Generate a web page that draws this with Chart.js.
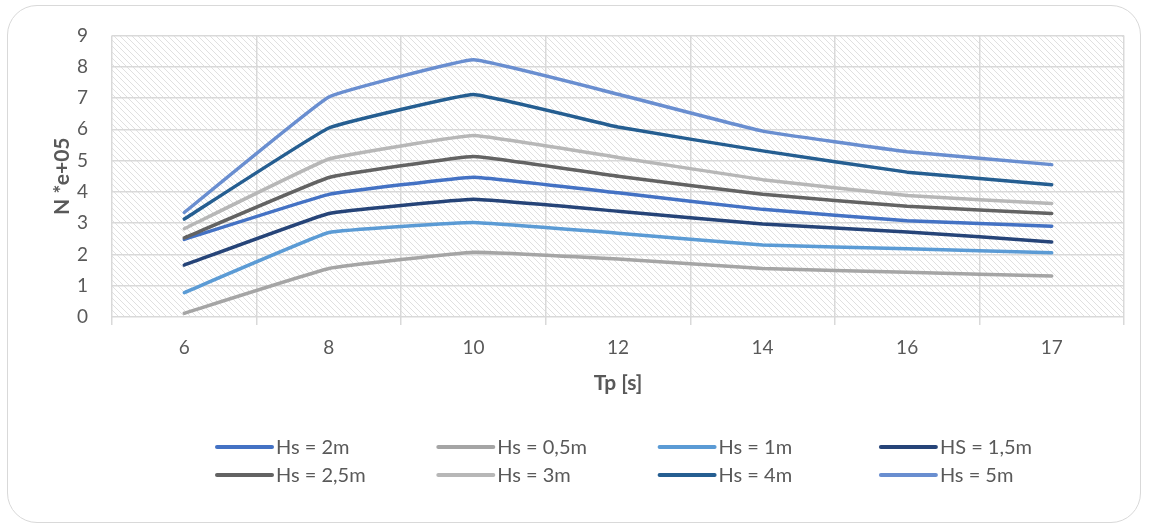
<!DOCTYPE html>
<html>
<head>
<meta charset="utf-8">
<script src="https://cdn.jsdelivr.net/npm/chart.js@4.4.1/dist/chart.umd.min.js"></script>
<style>
  html, body { margin: 0; padding: 0; background: #fff; }
  #wrap { position: relative; width: 1151px; height: 531px; }
  #frame {
    position: absolute; left: 7px; top: 5px; width: 1134px; height: 518px;
    border: 1.5px solid #d9d9d9; border-radius: 30px; box-sizing: border-box;
  }
  #c { position: absolute; left: 0; top: 0; }
</style>
</head>
<body>
<div id="wrap">
  <div id="frame"></div>
  <canvas id="c" width="1151" height="531"></canvas>
</div>
<script>
// Wave period categories (s)
const periods = ['6', '8', '10', '12', '14', '16', '17'];

// Cycle counts N (×1e5) per significant wave height
const hs2m   = [2.48, 3.92, 4.47, 3.97, 3.44, 3.08, 2.90];
const hs05m  = [0.12, 1.55, 2.07, 1.85, 1.55, 1.43, 1.31];
const hs1m   = [0.78, 2.70, 3.02, 2.68, 2.30, 2.18, 2.05];
const hs15m  = [1.66, 3.31, 3.76, 3.38, 2.97, 2.72, 2.40];
const hs25m  = [2.53, 4.46, 5.13, 4.50, 3.92, 3.54, 3.31];
const hs3m   = [2.82, 5.05, 5.80, 5.10, 4.39, 3.88, 3.63];
const hs4m   = [3.13, 6.04, 7.11, 6.07, 5.31, 4.63, 4.23];
const hs5m   = [3.34, 7.03, 8.22, 7.12, 5.94, 5.28, 4.87];

const seriesLabels = ['Hs = 2m', 'Hs = 0,5m', 'Hs = 1m', 'HS = 1,5m',
                      'Hs = 2,5m', 'Hs = 3m', 'Hs = 4m', 'Hs = 5m'];
const seriesValues = [hs2m, hs05m, hs1m, hs15m, hs25m, hs3m, hs4m, hs5m];
const seriesColors = ['#4472C4', '#A5A5A5', '#5B9BD5', '#264478',
                      '#636363', '#B7B7B7', '#255E91', '#698ED0'];

const yTicks = [0, 1, 2, 3, 4, 5, 6, 7, 8, 9];

const FONT = 'Lato, "Open Sans", sans-serif';
const TEXT = '#595959';
const GRID = '#d9d9d9';

// Diagonal hatch used as the plot-area fill
function makeHatch() {
  const s = 6;
  const p = document.createElement('canvas');
  p.width = s; p.height = s;
  const g = p.getContext('2d');
  g.strokeStyle = '#e0e0e0';
  g.lineWidth = 1;
  g.beginPath();
  g.moveTo(0, 0); g.lineTo(s, s);
  g.moveTo(-1, s - 1); g.lineTo(1, s + 1);
  g.moveTo(s - 1, -1); g.lineTo(s + 1, 1);
  g.stroke();
  return p;
}

const hatchFill = {
  id: 'hatchFill',
  beforeDraw(chart) {
    const { ctx, chartArea: a } = chart;
    ctx.save();
    ctx.fillStyle = ctx.createPattern(makeHatch(), 'repeat');
    ctx.fillRect(a.left, a.top, a.right - a.left, a.bottom - a.top);
    ctx.restore();
  }
};

// Two-row, four-column legend below the axis title
const gridLegend = {
  id: 'gridLegend',
  afterDraw(chart) {
    const ctx = chart.ctx;
    const x0 = 217, colW = 221.3, rows = [447, 475], lineLen = 55;
    ctx.save();
    ctx.font = '20px ' + FONT;
    ctx.textBaseline = 'middle';
    ctx.textAlign = 'left';
    chart.data.datasets.forEach((ds, i) => {
      const col = i % 4, row = Math.floor(i / 4);
      const x = x0 + col * colW, y = rows[row];
      ctx.strokeStyle = ds.borderColor;
      ctx.lineWidth = 4;
      ctx.lineCap = 'round';
      ctx.beginPath();
      ctx.moveTo(x, y); ctx.lineTo(x + lineLen, y);
      ctx.stroke();
      ctx.fillStyle = TEXT;
      ctx.fillText(ds.label, x + lineLen + 4, y + 1);
    });
    ctx.restore();
  }
};

const datasets = seriesValues.map((vals, i) => ({
  label: seriesLabels[i],
  data: vals,
  borderColor: seriesColors[i],
  backgroundColor: seriesColors[i],
  borderWidth: 3.5,
  borderCapStyle: 'round',
  borderJoinStyle: 'round',
  pointRadius: 0,
  pointHoverRadius: 0,
  tension: 0.08,
  fill: false,
  order: seriesValues.length - i
}));

new Chart(document.getElementById('c'), {
  type: 'line',
  data: { labels: periods, datasets },
  plugins: [hatchFill, gridLegend],
  options: {
    responsive: false,
    animation: false,
    events: [],
    layout: { padding: { left: 40, right: 27, top: 33, bottom: 131 } },
    plugins: { legend: { display: false }, tooltip: { enabled: false } },
    scales: {
      x: {
        type: 'category',
        offset: true,
        grid: { offset: true, color: GRID, lineWidth: 1.5, tickLength: 8, drawTicks: true },
        border: { display: false },
        ticks: { color: TEXT, font: { family: FONT, size: 19 }, padding: 11 },
        title: { display: true, text: 'Tp [s]', color: TEXT,
                 font: { family: FONT, size: 21, weight: 'bold' },
                 padding: { top: 0, bottom: 4 } },
        afterFit(scale) { scale.height = 83; }
      },
      y: {
        min: 0, max: 9,
        afterBuildTicks(scale) { scale.ticks = yTicks.map(v => ({ value: v })); },
        grid: { color: GRID, lineWidth: 1.5, drawTicks: false },
        border: { display: false },
        ticks: { color: TEXT, font: { family: FONT, size: 19 }, padding: 24 },
        title: { display: true, text: 'N *e+05', color: TEXT,
                 font: { family: FONT, size: 21, weight: 'bold' },
                 padding: { top: 10, bottom: 0 } },
        afterFit(scale) { scale.width = 72; }
      }
    }
  }
});
</script>
</body>
</html>
